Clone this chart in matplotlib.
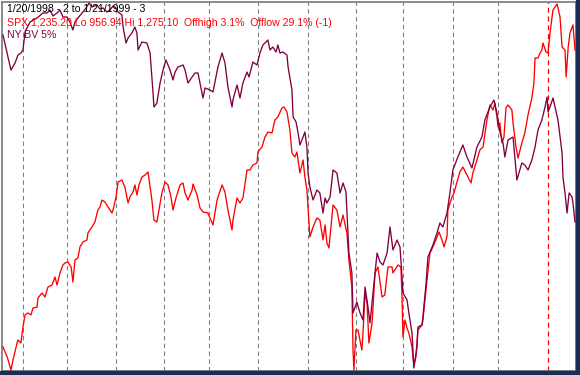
import matplotlib
matplotlib.use("Agg")
import matplotlib.pyplot as plt
from matplotlib.patches import Rectangle

# ---- data (x = session position, Jan 20 1998 .. Jan 21 1999) ----
spx_x = [0, 2, 3.5, 4.4, 6.2, 6.6, 7.9, 8.8, 9.7, 11.0, 12.3, 13.2, 15.0, 15.4, 17.2, 18.5,
         19.8, 21.6, 22.9, 23.8, 25.1, 26.4, 27.3, 28.6, 30.0, 30.8, 31.7, 33.0, 33.9, 35.2,
         37.0, 37.4, 39.2, 40.5, 41.8, 42.7, 43.6, 44.9, 46.3, 48.0, 48.5, 49.8, 50.7, 52.4,
         53.7, 55.1, 55.9, 57.3, 58.1, 59.0, 59.9, 61.2, 62.6, 63.9, 65.6, 66.5, 67.8, 68.7,
         70.0, 71.4, 72.7, 74.0, 74.9, 76.2, 78.0, 79.3, 80.2, 81.5, 83.3, 83.7, 85.5, 86.8,
         88.1, 90.3, 92.5, 94.3, 96.5, 97.8, 99.1, 100.9, 101.3, 103.1, 104.4, 105.7, 107.5,
         108.8, 110.1, 111.9, 112.3, 114.1, 115.4, 116.7, 118.5, 119.8, 121.1, 122.9, 123.8,
         125.1, 126.4, 127.3, 128.6, 129.5, 130.8, 132.2, 133.0, 133.9, 135.2, 136.6, 138.3,
         139.6, 141.0, 141.9, 142.7, 143.6, 145.4, 147.1, 148.5, 149.8, 151.5, 152.4, 153.7,
         154.2, 154.6, 155.5, 156.4, 158.1, 158.6, 159.5, 160.4, 161.2, 162.6, 163.9, 165.2,
         167.0, 168.2, 169.6, 171.4, 171.8, 174.0, 175.3, 175.8, 176.2, 177.1, 178.0, 178.8,
         180.2, 181.0, 181.9, 182.8, 184.6, 185.0, 185.9, 186.8, 188.1, 189.4, 191.2, 192.1,
         193.4, 194.3, 195.6, 196.0, 197.8, 198.7, 200.0, 201.3, 202.6, 204.4, 206.2, 207.0,
         208.8, 210.1, 211.5, 213.2, 214.5, 215.9, 216.7, 217.6, 218.1, 218.9, 219.8, 220.7,
         221.6, 222.5, 224.2, 224.7, 226.0, 226.9, 228.6, 229.9, 231.3, 233.0, 233.9, 234.4,
         235.7, 236.6, 237.4, 237.9, 239.2, 240.1, 241.0, 242.3, 243.2, 244.1, 245.4, 246.3,
         247.6, 248.1, 249.0, 249.8, 251.1, 252.0]
spx_val = [977.0, 967.4, 956.9, 965.6, 980.4, 983.0, 980.4, 994.3, 1004.8, 1006.5, 1004.8,
           1010.8, 1011.7, 1019.5, 1023.9, 1020.4, 1029.1, 1030.8, 1037.8, 1030.8, 1041.3,
           1048.2, 1050.0, 1050.8, 1046.5, 1033.4, 1052.6, 1054.3, 1063.9, 1068.2, 1070.0,
           1076.0, 1081.3, 1085.6, 1096.0, 1098.6, 1104.7, 1103.0, 1098.6, 1093.4, 1096.0,
           1107.3, 1120.4, 1122.1, 1116.0, 1102.1, 1107.3, 1111.7, 1117.8, 1109.1, 1117.8,
           1124.7, 1126.5, 1129.1, 1104.7, 1087.3, 1085.6, 1096.0, 1110.8, 1120.4, 1117.8,
           1107.3, 1096.0, 1106.5, 1117.8, 1119.5, 1110.8, 1104.7, 1113.4, 1118.6, 1109.1,
           1097.8, 1094.3, 1093.4, 1083.0, 1104.7, 1117.8, 1111.7, 1096.0, 1078.6, 1087.3,
           1106.5, 1102.1, 1106.5, 1130.8, 1130.8, 1135.1, 1136.9, 1146.5, 1150.8, 1159.5,
           1163.8, 1163.0, 1174.3, 1176.9, 1184.7, 1185.6, 1181.2, 1165.6, 1145.6, 1142.1,
           1146.5, 1128.2, 1139.5, 1124.7, 1113.4, 1072.6, 1081.3, 1089.1, 1087.3, 1070.0,
           1083.0, 1067.3, 1063.0, 1100.4, 1096.0, 1081.3, 1091.7, 1076.0, 1052.6, 1029.1,
           974.3, 956.9, 991.7, 991.7, 974.3, 989.1, 1023.9, 1015.2, 980.4, 997.8, 1041.3,
           1046.5, 1020.4, 1022.1, 1046.5, 1046.5, 1041.3, 1048.2, 1046.5, 1020.4, 985.6,
           1000.4, 993.4, 989.1, 976.9, 961.3, 968.2, 991.7, 996.1, 1000.4, 1017.8, 1035.2,
           1058.6, 1063.9, 1072.6, 1076.9, 1070.0, 1063.9, 1072.6, 1096.0, 1107.3, 1110.8,
           1120.4, 1129.1, 1133.4, 1126.5, 1119.5, 1128.2, 1139.5, 1148.2, 1150.8, 1174.3,
           1187.3, 1183.0, 1189.0, 1176.9, 1168.2, 1171.7, 1154.3, 1159.5, 1184.7, 1187.3,
           1183.0, 1171.7, 1150.8, 1141.2, 1154.3, 1163.0, 1178.6, 1193.4, 1206.4, 1228.2,
           1228.2, 1232.5, 1235.1, 1241.2, 1233.4, 1232.5, 1249.9, 1269.9, 1272.5, 1275.1,
           1263.8, 1237.7, 1235.1, 1211.7, 1237.7, 1249.9, 1256.9, 1235.2]

nybv_x = [0, 3.5, 5.3, 6.6, 7.9, 8.8, 9.7, 11.9, 15.0, 17.6, 19.4, 20.7, 22.0, 23.8, 25.1,
          26.4, 28.2, 29.5, 30.8, 31.7, 33.0, 35.2, 36.6, 37.9, 39.2, 41.4, 42.7, 44.1, 45.8,
          47.1, 48.5, 49.3, 50.7, 52.4, 52.9, 54.2, 55.1, 56.8, 58.1, 59.0, 59.5, 61.2, 63.4,
          64.8, 65.6, 66.1, 66.5, 67.8, 69.2, 70.5, 71.8, 72.7, 73.6, 74.9, 75.8, 77.1, 79.3,
          80.2, 81.5, 83.3, 84.6, 85.9, 87.2, 88.1, 89.0, 91.2, 92.5, 94.7, 96.5, 97.8, 99.1,
          100.9, 101.3, 103.1, 104.4, 105.7, 107.5, 108.4, 110.1, 111.9, 113.2, 114.5, 115.4,
          116.7, 117.6, 118.9, 120.3, 121.1, 122.0, 123.3, 125.1, 125.6, 127.3, 127.8, 129.1,
          130.0, 130.8, 132.2, 133.0, 133.9, 134.4, 135.2, 136.6, 138.3, 139.6, 141.0, 141.9,
          142.7, 144.1, 145.4, 147.1, 148.5, 149.8, 151.1, 152.4, 153.7, 154.2, 155.9, 157.3,
          158.6, 159.5, 160.8, 161.7, 163.0, 164.8, 166.1, 167.4, 169.2, 170.5, 171.8, 173.6,
          174.9, 175.8, 176.2, 178.0, 178.8, 180.2, 181.0, 182.4, 182.8, 184.6, 185.0, 186.4,
          187.2, 189.4, 191.2, 192.5, 193.8, 195.6, 196.9, 198.2, 200.4, 202.6, 204.4, 206.6,
          208.8, 211.0, 212.3, 214.5, 216.3, 217.6, 218.9, 220.3, 221.1, 222.5, 224.7, 226.4,
          228.6, 229.9, 231.3, 233.0, 234.4, 235.7, 237.4, 238.8, 239.7, 240.1, 241.0, 242.3,
          243.2, 244.5, 246.3, 246.7, 247.6, 248.5, 249.4, 250.7, 251.1, 252.0]
nybv_val = [335, 300, 307, 315, 317, 320, 338, 348, 352, 357, 357, 360, 354, 357, 360, 353,
            353, 348, 340, 348, 352, 358, 362, 367, 363, 365, 361, 362, 358, 360, 364, 363,
            358, 355, 343, 327, 332, 337, 343, 337, 320, 328, 327, 317, 293, 277, 263, 267,
            287, 300, 310, 305, 300, 290, 298, 303, 305, 300, 287, 293, 297, 297, 282, 272,
            282, 280, 278, 303, 317, 307, 283, 263, 270, 285, 272, 287, 298, 293, 308, 305,
            317, 325, 327, 330, 320, 323, 318, 325, 317, 318, 315, 303, 280, 253, 248, 237,
            225, 233, 238, 223, 197, 183, 170, 180, 177, 157, 172, 167, 173, 200, 197, 177,
            187, 178, 117, 97, 57, 68, 57, 50, 83, 63, 47, 77, 117, 108, 105, 117, 143, 120,
            130, 123, 93, 77, 70, 57, 37, 2, 23, 43, 45, 53, 87, 113, 125, 137, 147, 143, 157,
            177, 200, 213, 225, 213, 202, 223, 233, 250, 263, 270, 257, 238, 227, 213, 230,
            233, 190, 207, 205, 200, 210, 223, 240, 250, 263, 273, 258, 263, 272, 263, 250,
            217, 193, 177, 157, 177, 173, 167, 148]

month_lines = [8.8, 28.2, 49.8, 70.9, 90.7, 112.3, 134.4, 155.5, 176.2, 198.2, 218.1]
year_line = 240.1

title1 = "1/20/1998 - 2 to 1/21/1999 - 3"
title2 = "SPX 1,235.20 Lo 956.94 Hi 1,275.10  Offhigh 3.1%  Offlow 29.1% (-1)"
title3 = "NY BV 5%"

RED = "#ff0000"
PURPLE = "#800040"

fig = plt.figure(figsize=(5.8, 3.75), dpi=100, facecolor="white")
# window frame strips (right and bottom)
fig.patches.append(Rectangle((576 / 580, 0), 4 / 580, 1, transform=fig.transFigure,
                             color="#1c2d55", zorder=0))
fig.patches.append(Rectangle((0, 0), 1, 4 / 375, transform=fig.transFigure,
                             color="#1c2d55", zorder=0))

ax = fig.add_axes([2 / 580, 4 / 375, 574 / 580, 369 / 375])
ax.set_facecolor("white")
px_per_day = 2.27
ax.set_xlim(-1 / px_per_day, 252 + 1 / px_per_day)
ppp = 318.16 / 366
ax.set_ylim(956.94 - 1 * ppp, 1275.10 + 2 * ppp)
ax.set_xticks([])
ax.set_yticks([])
for s in ax.spines.values():
    s.set_color("#808080")
    s.set_linewidth(1.3)

for m in month_lines:
    ax.axvline(m, color="#808080", lw=0.8, ls=(0, (4, 3)), zorder=1)
ax.axvline(year_line, color=RED, lw=0.9, ls=(0, (4, 3)), zorder=1)

ax.plot(spx_x, spx_val, color=RED, lw=0.95, zorder=3)

ax2 = ax.twinx()
ax2.set_ylim(-1, 368)
ax2.set_yticks([])
ax2.set_xlim(ax.get_xlim())
ax2.patch.set_visible(False)
for s in ax2.spines.values():
    s.set_visible(False)
ax2.plot(nybv_x, nybv_val, color=PURPLE, lw=0.95, zorder=4)

fam = ["Liberation Sans", "DejaVu Sans"]
fs = 7.6
fig.text(7 / 580, 1 - 9.5 / 375, title1, color="black", fontsize=fs, family=fam,
         va="center", ha="left")
fig.text(7 / 580, 1 - 22.5 / 375, title2, color=RED, fontsize=fs, family=fam,
         va="center", ha="left")
fig.text(7 / 580, 1 - 35.5 / 375, title3, color=PURPLE, fontsize=fs, family=fam,
         va="center", ha="left")

fig.savefig("out.png", dpi=100, facecolor=fig.get_facecolor())
